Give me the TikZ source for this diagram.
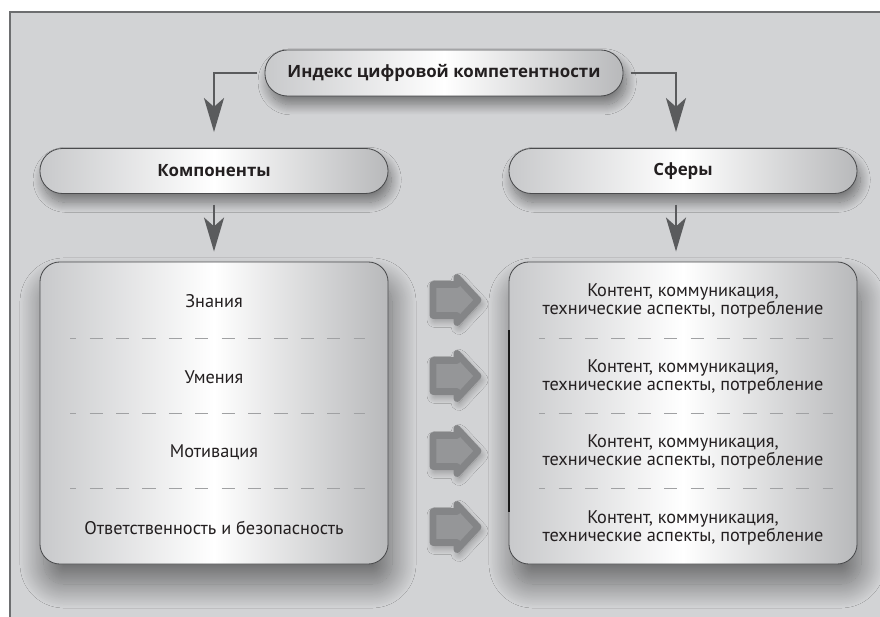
\documentclass[tikz,border=0pt]{standalone}
\usepackage{fontspec}
\setmainfont{PT Sans}
\newfontfamily\headfont{Open Sans}
\usetikzlibrary{positioning,calc,arrows.meta,shadows.blur}

\definecolor{panel}{HTML}{D2D3D5}
\definecolor{frameline}{HTML}{6D6E70}
\definecolor{boxline}{HTML}{4A4B4D}
\definecolor{boxedge}{HTML}{C8C9CB}
\definecolor{flowgray}{HTML}{5A5B5D}
\definecolor{dashgray}{HTML}{A0A1A3}
\definecolor{arrowfill}{HTML}{959698}
\definecolor{arrowline}{HTML}{848587}
\definecolor{ink}{HTML}{231F20}

\tikzset{
  pill/.style={draw=boxline, line width=0.6pt, rounded corners=0.56cm,
    minimum width=8.7cm, minimum height=1.125cm, inner sep=0pt,
    left color=boxedge, right color=boxedge!92!black, middle color=white,
    font=\headfont\bfseries\fontsize{12}{14}\selectfont, text=ink,
    blur shadow={shadow xshift=0.08cm, shadow yshift=-0.22cm, shadow blur radius=0.25cm,
      shadow blur steps=20, shadow opacity=45}},
  listbox/.style={draw=boxline, line width=0.6pt, rounded corners=0.5cm,
    minimum width=8.7cm, minimum height=7.55cm, inner sep=0pt,
    left color=boxedge, right color=boxedge!92!black, middle color=white,
    blur shadow={shadow xshift=0.1cm, shadow yshift=-0.5cm, shadow blur radius=0.6cm,
      shadow blur steps=30, shadow opacity=50}},
  rowtext/.style={align=center, text=ink, font=\fontsize{13}{11.4}\selectfont},
  sep/.style={draw=dashgray, line width=0.7pt, dash pattern=on 0.33cm off 0.33cm, dash phase=0.17cm},
  flow/.style={draw=flowgray, line width=0.065cm,
    -{Stealth[length=0.85cm, width=0.5cm, inset=0.22cm]}},
  bigarrow/.style={draw=arrowline, fill=arrowfill, line width=0.17cm, line join=round,
    blur shadow={shadow xshift=0.05cm, shadow yshift=-0.1cm, shadow blur radius=0.2cm,
      shadow blur steps=15, shadow opacity=40}}
}

\begin{document}
\begin{tikzpicture}[x=0.025cm, y=0.025cm]
  \useasboundingbox (0,0) rectangle (880,617);
  % frame
  \fill[panel] (10,0) rectangle (880,605);
  \draw[frameline, line width=0.04cm] (10,0) -- (10,605) -- (880,605);

  % headers
  \node[pill, minimum width=8.95cm, minimum height=1.15cm] (index) at (444,544) {Индекс цифровой компетентности};
  \node[pill] (comp) at (214,446) {Компоненты};
  \node[pill] (spheres) at (683,446) {Сферы};

  % lists
  \node[listbox] (complist) at (214,204) {};
  \node[listbox] (sphlist) at (683,204) {};
  \draw[black!90, line width=0.05cm] ($(sphlist.west)+(0,83)$) -- ($(sphlist.west)+(0,-99)$);

  % connectors
  \draw[flow, shorten <=0.18cm, shorten >=0.4cm] (index.west) -| (comp.north);
  \draw[flow, shorten <=0.18cm, shorten >=0.4cm] (index.east) -| ($(spheres.north)+(-7,0)$);
  \draw[flow, shorten <=0.27cm, shorten >=0.25cm] (comp.south) -- (complist.north);
  \draw[flow, shorten <=0.27cm, shorten >=0.25cm] ($(spheres.south)+(-7,0)$) -- ($(sphlist.north)+(-7,0)$);

  % rows, left
  \node[rowtext] (know) at (214,316) {Знания};
  \node[rowtext] (skill) at (214,240) {Умения};
  \node[rowtext] (motiv) at (214,165) {Мотивация};
  \node[rowtext] (safe) at (214,89) {Ответственность и безопасность};
  \draw[sep] (70,279) -- (365,279);
  \draw[sep] (70,204) -- (365,204);
  \draw[sep] (70,129) -- (365,129);

  % rows, right
  \node[rowtext] (area1) at (683,316) {Контент, коммуникация,\\технические аспекты, потребление};
  \node[rowtext] (area2) at (683,240) {Контент, коммуникация,\\технические аспекты, потребление};
  \node[rowtext] (area3) at (683,165) {Контент, коммуникация,\\технические аспекты, потребление};
  \node[rowtext] (area4) at (683,89) {Контент, коммуникация,\\технические аспекты, потребление};
  \draw[sep] (539,279) -- (833,279);
  \draw[sep] (539,204) -- (833,204);
  \draw[sep] (539,129) -- (833,129);

  % block arrows
  \draw[bigarrow, shift={(456,317)}] (-23,-15.5) -- (1,-15.5) -- (1,-22.5) -- (22,0) -- (1,22.5) -- (1,15.5) -- (-23,15.5) -- cycle;
  \draw[bigarrow, shift={(456,241)}] (-23,-15.5) -- (1,-15.5) -- (1,-22.5) -- (22,0) -- (1,22.5) -- (1,15.5) -- (-23,15.5) -- cycle;
  \draw[bigarrow, shift={(456,166)}] (-23,-15.5) -- (1,-15.5) -- (1,-22.5) -- (22,0) -- (1,22.5) -- (1,15.5) -- (-23,15.5) -- cycle;
  \draw[bigarrow, shift={(456,90)}] (-23,-15.5) -- (1,-15.5) -- (1,-22.5) -- (22,0) -- (1,22.5) -- (1,15.5) -- (-23,15.5) -- cycle;
\end{tikzpicture}
\end{document}
